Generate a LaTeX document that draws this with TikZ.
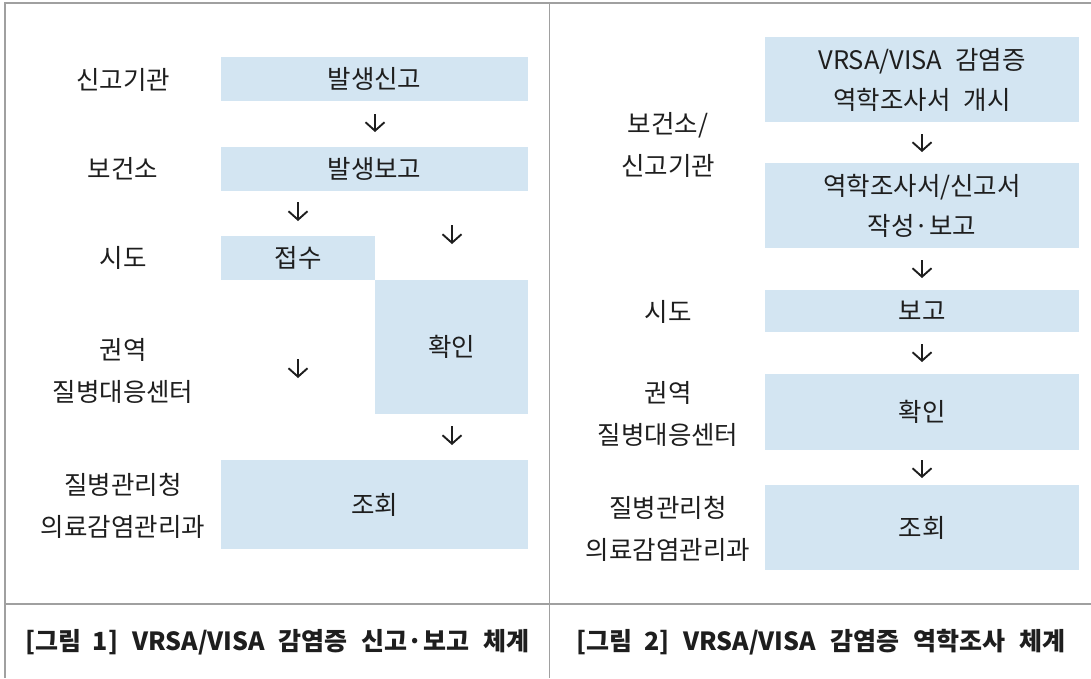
\documentclass[tikz,border=0pt]{standalone}
\usepackage{fontspec}
\setmainfont{Noto Sans CJK KR}
\usetikzlibrary{arrows.meta}
\definecolor{boxfill}{RGB}{211,229,242}
\definecolor{framegray}{RGB}{160,160,160}
\definecolor{txt}{RGB}{30,30,30}
\tikzset{
  flowbox/.style={rectangle, fill=boxfill, draw=none, inner sep=0pt, align=center, text=txt,
    font=\fontsize{25.5pt}{40pt}\selectfont},
  rolelabel/.style={inner sep=0pt, align=center, text=txt, font=\fontsize{25.5pt}{41.5pt}\selectfont},
  flowarrow/.style={draw=txt, line width=1.9pt, -{Straight Barb[length=8.5pt,width=19pt,line width=1.9pt]}},
  frameline/.style={draw=framegray, line width=1.4pt},
  captiontext/.style={inner sep=0pt, text=txt, font=\fontsize{25pt}{28pt}\selectfont\bfseries}
}
\begin{document}
\begin{tikzpicture}[x=1pt,y=-1pt]
\useasboundingbox (0,0) rectangle (1091,678);
% frame
\coordinate (ftl) at (5,3);
\coordinate (ftr) at (1091,3);
\coordinate (fbl) at (5,678);
\coordinate (dt) at (549.5,3);
\coordinate (db) at (549.5,678);
\coordinate (hl) at (5,604);
\coordinate (hr) at (1091,604);
\draw[frameline] (fbl) -- (ftl) -- (ftr);
\draw[frameline] (dt) -- (db);
\draw[frameline] (hl) -- (hr);

% ---------- left panel ----------
\node[flowbox, minimum width=307pt, minimum height=44pt] (l1) at (374.5,79) {발생신고};
\node[flowbox, minimum width=307pt, minimum height=44pt] (l2) at (374.5,169) {발생보고};
\node[flowbox, minimum width=154pt, minimum height=44pt] (l3) at (298,258) {접수};
\node[flowbox, minimum width=153pt, minimum height=134pt] (l4) at (451.5,347) {확인};
\node[flowbox, minimum width=307pt, minimum height=89pt] (l5) at (374.5,504.5) {조회};

\node[rolelabel] (lr1) at (123,80) {신고기관};
\node[rolelabel] (lr2) at (123,169) {보건소};
\node[rolelabel] (lr3) at (123,258) {시도};
\node[rolelabel] (lr4) at (123,371) {권역\\질병대응센터};
\node[rolelabel] (lr5) at (123,506) {질병관리청\\의료감염관리과};

\coordinate (la1s) at (375,114); \coordinate (la1e) at (375,132);
\coordinate (la2s) at (298,202); \coordinate (la2e) at (298,221);
\coordinate (la3s) at (452,225); \coordinate (la3e) at (452,244);
\coordinate (la4s) at (298,359); \coordinate (la4e) at (298,378);
\coordinate (la5s) at (452,426); \coordinate (la5e) at (452,445);
\draw[flowarrow] (la1s) -- (la1e);
\draw[flowarrow] (la2s) -- (la2e);
\draw[flowarrow] (la3s) -- (la3e);
\draw[flowarrow] (la4s) -- (la4e);
\draw[flowarrow] (la5s) -- (la5e);

\node[captiontext] (cap1) at (277.5,642) {[그림\hspace{0.45em}1]\hspace{0.56em}VRSA/VISA\hspace{0.56em}감염증\hspace{0.56em}신고·보고\hspace{0.56em}체계};

% ---------- right panel ----------
\node[flowbox, minimum width=314pt, minimum height=85pt] (r1) at (922,79.5) {VRSA/VISA\hspace{0.5em}감염증\\역학조사서\hspace{0.5em}개시};
\node[flowbox, minimum width=314pt, minimum height=85pt] (r2) at (922,205.5) {역학조사서/신고서\\작성·보고};
\node[flowbox, minimum width=314pt, minimum height=42pt] (r3) at (922,311) {보고};
\node[flowbox, minimum width=314pt, minimum height=76pt] (r4) at (922,412) {확인};
\node[flowbox, minimum width=314pt, minimum height=85pt] (r5) at (922,527.5) {조회};

\node[rolelabel] (rr1) at (668,145) {보건소/\\신고기관};
\node[rolelabel] (rr3) at (668,312) {시도};
\node[rolelabel] (rr4) at (668,414) {권역\\질병대응센터};
\node[rolelabel] (rr5) at (668,529) {질병관리청\\의료감염관리과};

\coordinate (ra1s) at (922,134); \coordinate (ra1e) at (922,152);
\coordinate (ra2s) at (922,260); \coordinate (ra2e) at (922,278);
\coordinate (ra3s) at (922,344); \coordinate (ra3e) at (922,362);
\coordinate (ra4s) at (922,460); \coordinate (ra4e) at (922,478);
\draw[flowarrow] (ra1s) -- (ra1e);
\draw[flowarrow] (ra2s) -- (ra2e);
\draw[flowarrow] (ra3s) -- (ra3e);
\draw[flowarrow] (ra4s) -- (ra4e);

\node[captiontext] (cap2) at (821,642) {[그림\hspace{0.45em}2]\hspace{0.56em}VRSA/VISA\hspace{0.56em}감염증\hspace{0.56em}역학조사\hspace{0.56em}체계};
\end{tikzpicture}
\end{document}
